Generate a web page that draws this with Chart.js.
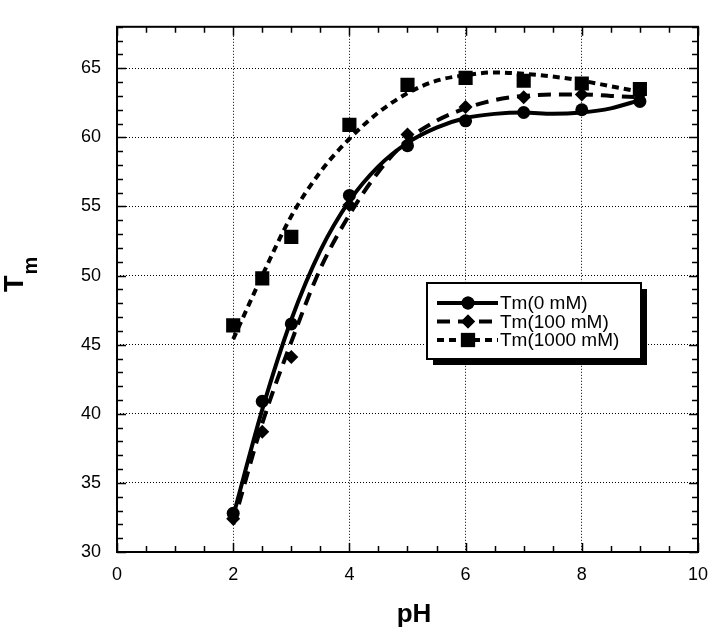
<!DOCTYPE html>
<html>
<head>
<meta charset="utf-8">
<script src="https://cdn.jsdelivr.net/npm/chart.js@4"></script>
<style>
  html, body { margin: 0; padding: 0; background: #fff; }
  #wrap { width: 720px; height: 637px; }
</style>
</head>
<body>
<div id="wrap"><canvas id="grafico"></canvas></div>
<script>
/* ---------- datos ---------- */
const PH       = [2, 2.5, 3, 4, 5, 6, 7, 8, 9]
const TM_0     = [32.8, 40.9, 46.5, 55.8, 59.4, 61.2, 61.8, 62.0, 62.6]
const TM_100   = [32.4, 38.7, 44.1, 55.1, 60.2, 62.2, 62.9, 63.1, 63.1]
const TM_1000  = [46.4, 49.8, 52.8, 60.9, 63.8, 64.3, 64.1, 63.9, 63.5]

// curvas de ajuste
const AJ_PH    = [2, 2.5, 3, 3.5, 4, 4.5, 5, 5.5, 6, 6.5, 7, 7.5, 8, 8.5, 9]
const AJ_0     = [32.6, 40.3, 46.8, 51.8, 55.4, 57.9, 59.6, 60.7, 61.4, 61.7, 61.8, 61.7, 61.8, 62.1, 62.7]
const AJ_100   = [32.0, 39.3, 45.2, 50.5, 54.4, 57.5, 59.8, 61.2, 62.1, 62.7, 63.0, 63.1, 63.1, 63.0, 62.9]
const AJ_1000  = [45.4, 50.0, 54.3, 57.5, 59.9, 61.8, 63.2, 64.1, 64.5, 64.7, 64.6, 64.4, 64.1, 63.7, 63.3]

const SERIES   = ["Tm(0 mM)", "Tm(100 mM)", "Tm(1000 mM)"]
const X_TICKS  = [0, 2, 4, 6, 8, 10]
const Y_TICKS  = [30, 35, 40, 45, 50, 55, 60, 65]

const FUENTE = "'Liberation Sans', Arial, Helvetica, sans-serif"
const ESTILOS = [
  { dash: [], punto: "circle", radio: 6.5 },
  { dash: [13, 8], punto: "rectRot", radio: 7 },
  { dash: [7, 5], punto: "rect", radio: 10 },
]

const pares = (xs, ys) => xs.map((x, i) => ({ x, y: ys[i] }))

function curva(label, ys, i) {
  return {
    type: "line", label, data: pares(AJ_PH, ys),
    borderColor: "#000", borderWidth: 4, borderDash: ESTILOS[i].dash,
    pointRadius: 0, cubicInterpolationMode: "monotone", fill: false, order: 2,
  }
}
function puntos(label, ys, i) {
  return {
    type: "scatter", label, data: pares(PH, ys),
    pointStyle: ESTILOS[i].punto, pointRadius: ESTILOS[i].radio,
    backgroundColor: "#000", borderColor: "#000", borderWidth: 0, order: 1,
  }
}

/* ---------- marco, ticks internos, títulos y leyenda ---------- */
const decoracion = {
  id: "decoracion",
  beforeDatasetsDraw(chart) {
    const { ctx, chartArea: a, scales: { x, y } } = chart
    ctx.save()
    ctx.strokeStyle = "#000"
    ctx.lineWidth = 1.5
    for (let v = 0; v <= 10; v += 0.5) {
      const px = Math.round(x.getPixelForValue(v)) + 0.5
      const largo = v % 2 === 0 ? 9 : 6
      ctx.beginPath()
      ctx.moveTo(px, a.bottom); ctx.lineTo(px, a.bottom - largo)
      ctx.moveTo(px, a.top); ctx.lineTo(px, a.top + largo)
      ctx.stroke()
    }
    for (let v = 30; v <= 68; v += 1) {
      const py = Math.round(y.getPixelForValue(v)) + 0.5
      const largo = v % 5 === 0 ? 9 : 6
      ctx.beginPath()
      ctx.moveTo(a.left, py); ctx.lineTo(a.left + largo, py)
      ctx.moveTo(a.right, py); ctx.lineTo(a.right - largo, py)
      ctx.stroke()
    }
    ctx.lineWidth = 2
    ctx.strokeRect(a.left, a.top, a.right - a.left, a.bottom - a.top)
    ctx.restore()
  },
  afterDraw(chart) {
    const { ctx } = chart
    ctx.save()
    ctx.fillStyle = "#000"

    // título eje x
    ctx.font = "bold 26px " + FUENTE
    ctx.textAlign = "center"
    ctx.textBaseline = "alphabetic"
    ctx.fillText("pH", 414, 622)

    // título eje y: T con subíndice m
    ctx.rotate(-Math.PI / 2)
    ctx.textAlign = "left"
    ctx.font = "bold 27px " + FUENTE
    ctx.fillText("T", -292, 23)
    const anchoT = ctx.measureText("T").width
    ctx.font = "bold 20px " + FUENTE
    ctx.fillText("m", -292 + anchoT + 1, 37)
    ctx.setTransform(1, 0, 0, 1, 0, 0)

    // leyenda
    const L = 427, T = 283, W = 214, H = 76
    ctx.fillRect(L + 6, T + 6, W, H)
    ctx.fillStyle = "#fff"
    ctx.fillRect(L, T, W, H)
    ctx.strokeStyle = "#000"
    ctx.lineWidth = 2
    ctx.strokeRect(L, T, W, H)
    ctx.fillStyle = "#000"
    ctx.font = "19px " + FUENTE
    ctx.textBaseline = "middle"
    SERIES.forEach((nombre, i) => {
      const cy = T + 20 + i * 18.5
      ctx.lineWidth = 4
      ctx.setLineDash(ESTILOS[i].dash)
      ctx.beginPath()
      ctx.moveTo(437, cy); ctx.lineTo(498, cy)
      ctx.stroke()
      ctx.setLineDash([])
      Chart.helpers.drawPoint(ctx, {
        pointStyle: ESTILOS[i].punto, radius: ESTILOS[i].radio, borderWidth: 0,
      }, 468, cy)
      ctx.fill()
      ctx.fillText(nombre, 500, cy + 1)
    })
    ctx.restore()
  }
}

new Chart(document.getElementById("grafico"), {
  data: {
    datasets: [
      curva(SERIES[0], AJ_0, 0),
      curva(SERIES[1], AJ_100, 1),
      curva(SERIES[2], AJ_1000, 2),
      puntos(SERIES[0], TM_0, 0),
      puntos(SERIES[1], TM_100, 1),
      puntos(SERIES[2], TM_1000, 2),
    ]
  },
  options: {
    responsive: true,
    maintainAspectRatio: false,
    animation: false,
    layout: { padding: { left: 0, right: 13, top: 3, bottom: 0 } },
    plugins: { legend: { display: false }, tooltip: { enabled: false } },
    scales: {
      x: {
        type: "linear", min: 0, max: 10,
        afterFit: s => { s.height = 85 },
        afterBuildTicks: s => { s.ticks = X_TICKS.map(value => ({ value })) },
        ticks: { color: "#000", font: { family: FUENTE, size: 18 }, padding: 12, maxRotation: 0 },
        grid: {
          drawTicks: false,
          color: c => (c.tick && c.tick.value > 0 && c.tick.value < 10) ? "#000" : "rgba(0,0,0,0)",
          lineWidth: 1,
        },
        border: { display: false, dash: [1, 2] },
      },
      y: {
        type: "linear", min: 30, max: 68,
        afterFit: s => { s.width = 117 },
        afterBuildTicks: s => { s.ticks = Y_TICKS.map(value => ({ value })) },
        ticks: { color: "#000", font: { family: FUENTE, size: 18 }, padding: 16 },
        grid: {
          drawTicks: false,
          color: c => (c.tick && c.tick.value > 30) ? "#000" : "rgba(0,0,0,0)",
          lineWidth: 1,
        },
        border: { display: false, dash: [1, 2] },
      }
    }
  },
  plugins: [decoracion]
})
</script>
</body>
</html>
